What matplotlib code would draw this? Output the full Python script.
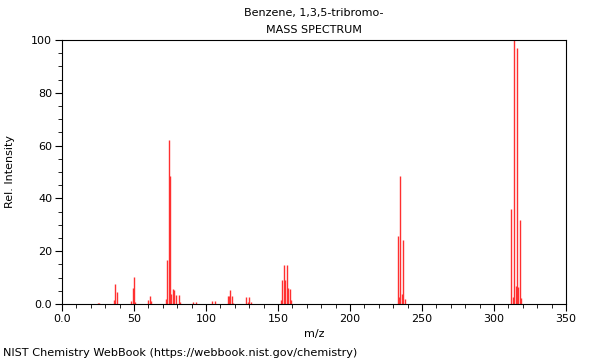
import matplotlib
matplotlib.use("Agg")
import matplotlib.pyplot as plt
from matplotlib.ticker import MultipleLocator, FixedLocator

mz = [25, 26, 36, 37, 38, 48, 49, 50, 51, 60, 61, 62,
      72, 73, 74, 75, 76, 77, 78, 79, 81, 82,
      91, 93, 104, 106, 115, 116, 117, 118, 119, 128, 129, 130, 131,
      152, 153, 154, 155, 156, 157, 158, 159,
      233, 234, 235, 236, 237, 238,
      312, 313, 314, 315, 316, 317, 318, 319]
intensity = [0.4, 0.4, 1.6, 7.6, 4.4, 1.0, 6.2, 10.1, 0.7, 1.5, 3.0, 1.3,
             1.9, 16.7, 62.0, 48.6, 3.8, 5.6, 5.3, 3.4, 3.5, 0.6,
             0.7, 0.7, 1.3, 1.3, 3.0, 3.0, 5.3, 3.0, 0.5, 2.5, 0.7, 2.5, 0.6,
             1.5, 9.0, 14.8, 9.0, 14.8, 6.0, 5.8, 1.5,
             25.8, 2.8, 48.6, 3.8, 24.2, 1.8,
             35.9, 2.7, 100.0, 6.8, 97.0, 6.6, 32.0, 2.4]

title_lines = ["Benzene, 1,3,5-tribromo-", "MASS SPECTRUM"]
x_ticks = [0, 50, 100, 150, 200, 250, 300, 350]
x_tick_labels = ["0.0", "50", "100", "150", "200", "250", "300", "350"]
y_ticks = [0, 20, 40, 60, 80, 100]
y_tick_labels = ["0.0", "20", "40", "60", "80", "100"]

plt.rcParams['font.family'] = ['DejaVu Sans']
fig = plt.figure(figsize=(6, 3.6), dpi=100)
ax = fig.add_axes([62/600, 1-304/360, (566-62)/600, (304-40)/360])

ax.vlines(mz, 0, intensity, colors='#ff3030', linewidth=1.0)

ax.set_xlim(0, 350)
ax.set_ylim(0, 100)
ax.xaxis.set_major_locator(FixedLocator(x_ticks))
ax.set_xticklabels(x_tick_labels, fontsize=8)
ax.yaxis.set_major_locator(FixedLocator(y_ticks))
ax.set_yticklabels(y_tick_labels, fontsize=8)
ax.xaxis.set_minor_locator(MultipleLocator(10))
ax.yaxis.set_minor_locator(MultipleLocator(5))
ax.tick_params(which='major', length=5, width=0.8, direction='out', pad=2)
ax.tick_params(which='minor', length=3, width=0.6, direction='out')
for s in ax.spines.values():
    s.set_linewidth(0.8)

ax.set_xlabel("m/z", fontsize=8, labelpad=4)
ax.set_ylabel("Rel. Intensity", fontsize=8, labelpad=12)

fig.text(0.5 * (62 + 566) / 600, 1 - 13/360, title_lines[0], ha='center', va='center', fontsize=8)
fig.text(0.5 * (62 + 566) / 600, 1 - 30/360, title_lines[1], ha='center', va='center', fontsize=8)
fig.text(3/600, 1 - 353/360, "NIST Chemistry WebBook (https://webbook.nist.gov/chemistry)",
         ha='left', va='center', fontsize=8.15)

fig.savefig("out.png", dpi=100)
